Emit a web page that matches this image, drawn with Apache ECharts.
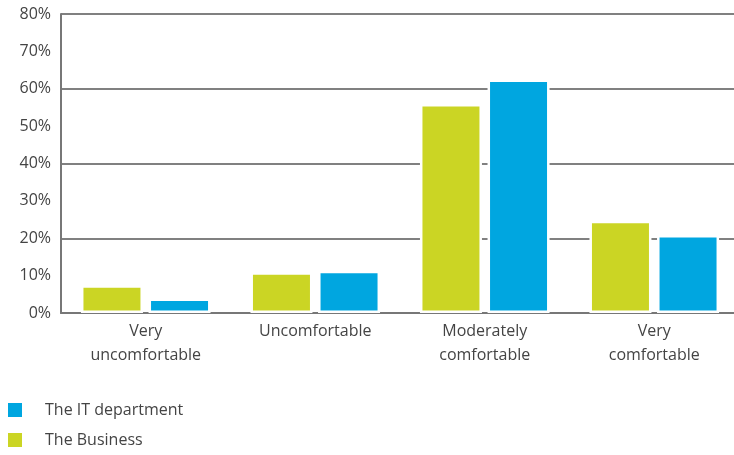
<!DOCTYPE html>
<html>
<head>
<meta charset="utf-8">
<script src="https://cdn.jsdelivr.net/npm/echarts@6/dist/echarts.min.js"></script>
<style>html,body{margin:0;padding:0;background:#fff;}#c{width:734px;height:455px;}</style>
</head>
<body>
<div id="c"></div>
<script>
var categories = ['Very\nuncomfortable', 'Uncomfortable', 'Moderately\ncomfortable', 'Very\ncomfortable'];
var businessValues = [7.4, 10.9, 55.9, 24.7];
var itValues = [3.9, 11.3, 62.5, 20.9];
var seriesNames = ['The IT department', 'The Business'];
var FONT = 'Open Sans';
var chart = echarts.init(document.getElementById('c'));
chart.setOption({
  animation: false,
  backgroundColor: '#fff',
  grid: {left: 61, top: 14, height: 299, width: 678, containLabel: false, outerBoundsMode: 'none'},
  legend: {
    orient: 'vertical', left: 6, top: 401, padding: 0,
    itemWidth: 16, itemHeight: 16, itemGap: 12, icon: 'rect',
    data: seriesNames,
    textStyle: {fontFamily: FONT, fontSize: 16, lineHeight: 18, color: '#444', padding: [0, 0, 0, 17]}
  },
  xAxis: {
    type: 'category', data: categories,
    axisLine: {lineStyle: {color: '#777', width: 2}},
    axisTick: {show: false},
    axisLabel: {fontFamily: FONT, fontSize: 16, color: '#444', lineHeight: 24, margin: 6}
  },
  yAxis: [{
    type: 'value', min: 0, max: 80, interval: 10,
    axisLine: {show: true, lineStyle: {color: '#777', width: 2}},
    axisTick: {show: false},
    splitLine: {show: false},
    axisLabel: {fontFamily: FONT, fontSize: 16, color: '#444', formatter: '{value}%', margin: 10}
  }, {
    type: 'value', min: 0, max: 80, interval: 20, position: 'left',
    axisLine: {show: false}, axisTick: {show: false}, axisLabel: {show: false},
    splitLine: {show: true, lineStyle: {color: '#808080', width: 2}}
  }],
  series: [{
    name: 'The Business', type: 'bar', data: businessValues,
    barWidth: 62, barGap: '9%',
    itemStyle: {color: '#CBD524', borderColor: '#fff', borderWidth: 2.5}
  }, {
    name: 'The IT department', type: 'bar', data: itValues,
    barWidth: 62, barGap: '9%',
    itemStyle: {color: '#00A6E0', borderColor: '#fff', borderWidth: 2.5}
  }]
});
</script>
</body>
</html>
